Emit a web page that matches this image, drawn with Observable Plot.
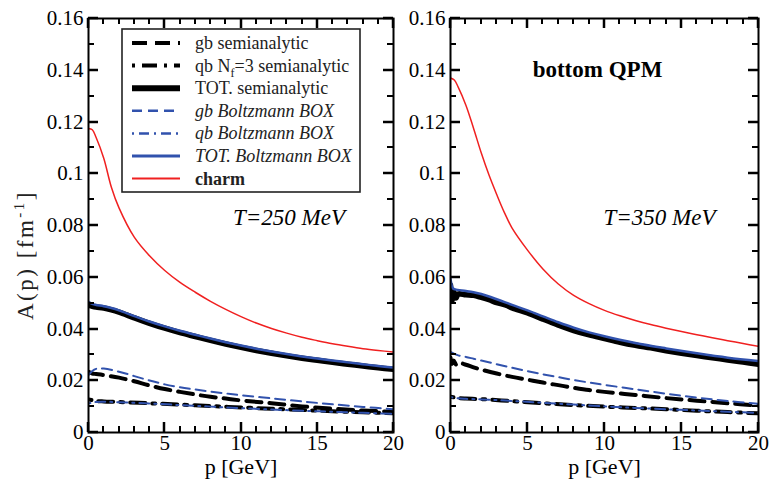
<!DOCTYPE html>
<html><head><meta charset="utf-8">
<script src="https://cdn.jsdelivr.net/npm/d3@7"></script>
<script src="https://cdn.jsdelivr.net/npm/@observablehq/plot@0.6"></script>
<style>
body{margin:0;background:#fff}
#wrap{display:flex;width:771px;height:480px;overflow:hidden}
</style>
</head><body><div id="wrap"></div>
<script>
// ---------- ticks ----------
const xTicks = [0, 5, 10, 15, 20];
const xMinor = [1,2,3,4,6,7,8,9,11,12,13,14,16,17,18,19];
const yTicks = [0, 0.02, 0.04, 0.06, 0.08, 0.1, 0.12, 0.14, 0.16];
const yMinor = [0.01, 0.03, 0.05, 0.07, 0.09, 0.11, 0.13, 0.15];

// ---------- legend labels ----------
const legendNames = ["gb semianalytic", "qb Nf=3 semianalytic", "TOT. semianalytic", "gb Boltzmann BOX", "qb Boltzmann BOX", "TOT. Boltzmann BOX", "charm"];
const panelTemps = ["T=250 MeV", "T=350 MeV"];
const panelTitle = "bottom QPM";

// ---------- T = 250 MeV (left) ----------
const charmL_p = [0,0.25,0.5,1,1.5,2,3,4,5,6,7,8,9,10,11,12,13,14,15,16,17,18,19,20];
const charmL_A = [0.1175,0.117,0.114,0.106,0.0948,0.0868,0.0755,0.0683,0.0626,0.058,0.0542,0.0507,0.0476,0.0448,0.0423,0.0402,0.0384,0.0368,0.0355,0.0343,0.0333,0.0324,0.0317,0.0311];
const totSemiL_p = [0,0.25,0.5,1,1.5,2,3,4,5,6,7,8,9,10,11,12,13,14,15,16,17,18,19,20];
const totSemiL_A = [0.0492,0.0488,0.0485,0.0481,0.0474,0.0465,0.0443,0.0422,0.0403,0.0386,0.0371,0.0356,0.0342,0.0329,0.0317,0.0306,0.0296,0.0287,0.0279,0.0271,0.0264,0.0257,0.025,0.0244];
const totBoxL_p = [0,0.25,0.5,1,1.5,2,3,4,5,6,7,8,9,10,11,12,13,14,15,16,17,18,19,20];
const totBoxL_A = [0.0505,0.0497,0.0493,0.0488,0.0481,0.0472,0.045,0.0429,0.041,0.0393,0.0378,0.0363,0.0349,0.0336,0.0324,0.0313,0.0303,0.0294,0.0286,0.0278,0.0271,0.0264,0.0257,0.0251];
const gbSemiL_p = [0,0.25,0.5,1,2,3,4,5,6,7,8,9,10,12,14,16,18,20];
const gbSemiL_A = [0.0235,0.0228,0.0226,0.0222,0.0212,0.0198,0.0182,0.0168,0.0157,0.0147,0.0138,0.0131,0.0124,0.0113,0.0101,0.0092,0.0085,0.008];
const gbBoxL_p = [0,0.25,0.5,1,2,3,4,5,6,7,8,9,10,12,14,16,18,20];
const gbBoxL_A = [0.0222,0.0238,0.0246,0.0247,0.0235,0.0218,0.0201,0.0186,0.0175,0.0166,0.0158,0.0151,0.0144,0.0132,0.012,0.0109,0.0099,0.009];
const qbSemiL_p = [0,0.5,1,2,4,6,8,10,12,14,16,18,20];
const qbSemiL_A = [0.0128,0.0122,0.012,0.0118,0.0113,0.0108,0.0102,0.0097,0.0092,0.0087,0.0082,0.0078,0.0074];
const qbBoxL_p = [0,0.5,1,2,4,6,8,10,12,14,16,18,20];
const qbBoxL_A = [0.0112,0.0118,0.0119,0.0117,0.0112,0.0106,0.01,0.0094,0.0089,0.0084,0.008,0.0076,0.0072];

// ---------- T = 350 MeV (right) ----------
const charmR_p = [0,0.25,0.5,1,1.5,2,2.5,3,3.5,4,5,6,7,8,9,10,11,12,13,14,15,16,17,18,19,20];
const charmR_A = [0.137,0.1362,0.1335,0.1265,0.1175,0.108,0.0995,0.092,0.085,0.079,0.0705,0.0632,0.0574,0.053,0.0498,0.0472,0.0451,0.0433,0.0417,0.0403,0.039,0.0378,0.0366,0.0355,0.0344,0.0333];
const totSemiR_p = [0,0.1,0.2,0.35,0.5,1,1.5,2,2.5,3,3.7,4,5,6,7,8,9,10,11,12,13,14,15,16,17,18,19,20];
const totSemiR_A = [0.057,0.051,0.0545,0.052,0.0535,0.0532,0.053,0.0522,0.0513,0.0502,0.049,0.0481,0.0462,0.0438,0.0415,0.0394,0.0377,0.0363,0.0349,0.0337,0.0327,0.0316,0.0306,0.0297,0.0289,0.028,0.0272,0.0264];
const totBoxR_p = [0,0.15,0.3,1,1.5,2,3,4,5,6,7,8,9,10,12,14,16,18,20];
const totBoxR_A = [0.0594,0.0558,0.0553,0.0547,0.0542,0.0535,0.0515,0.0493,0.0472,0.0449,0.0426,0.0405,0.0387,0.0372,0.0346,0.0325,0.0306,0.0289,0.0276];
const gbSemiR_p = [0,0.1,0.2,0.4,0.6,1,1.5,2,3,4,5,6,7,8,9,10,12,14,16,18,20];
const gbSemiR_A = [0.029,0.0265,0.0278,0.026,0.0268,0.0262,0.0252,0.0243,0.0228,0.0215,0.0204,0.0193,0.0183,0.0173,0.0164,0.0157,0.0145,0.0133,0.0123,0.0113,0.0104];
const gbBoxR_p = [0,0.5,1,1.5,2,3,4,5,6,7,8,9,10,12,14,16,18,20];
const gbBoxR_A = [0.0312,0.0298,0.0292,0.0285,0.0278,0.0264,0.025,0.0237,0.0225,0.0214,0.0203,0.0193,0.0184,0.0167,0.015,0.0135,0.0122,0.0111];
const qbSemiR_p = [0,0.5,1,2,4,6,8,10,12,14,16,18,20];
const qbSemiR_A = [0.0138,0.0133,0.0131,0.0129,0.0121,0.0113,0.0106,0.01,0.0095,0.009,0.0084,0.0079,0.0074];
const qbBoxR_p = [0,0.5,1,2,4,6,8,10,12,14,16,18,20];
const qbBoxR_A = [0.0137,0.0132,0.013,0.0128,0.0122,0.0115,0.0108,0.0101,0.0095,0.009,0.0085,0.008,0.0076];

// ---------- styles ----------
const BLUE = "#3152ad", RED = "#f02020", BLACK = "#000";
const styles = [
  {stroke: BLACK, strokeWidth: 4, dash: "15,8", legendWidth: 4},
  {stroke: BLACK, strokeWidth: 4, dash: "3,7,15,7", legendWidth: 4},
  {stroke: BLACK, strokeWidth: 5.5, dash: null, legendWidth: 6},
  {stroke: BLUE, strokeWidth: 2, dash: "10,6", legendWidth: 2.5},
  {stroke: BLUE, strokeWidth: 2, dash: "2,5,10,5", legendWidth: 2.5},
  {stroke: BLUE, strokeWidth: 2.5, dash: null, legendWidth: 3},
  {stroke: RED, strokeWidth: 1.5, dash: null, legendWidth: 2}
];

function rows(ps, as) { return ps.map((p, i) => ({p, A: as[i]})); }

const seriesL = [rows(gbSemiL_p, gbSemiL_A), rows(qbSemiL_p, qbSemiL_A), rows(totSemiL_p, totSemiL_A),
                 rows(gbBoxL_p, gbBoxL_A), rows(qbBoxL_p, qbBoxL_A), rows(totBoxL_p, totBoxL_A), rows(charmL_p, charmL_A)];
const seriesR = [rows(gbSemiR_p, gbSemiR_A), rows(qbSemiR_p, qbSemiR_A), rows(totSemiR_p, totSemiR_A),
                 rows(gbBoxR_p, gbBoxR_A), rows(qbBoxR_p, qbBoxR_A), rows(totBoxR_p, totBoxR_A), rows(charmR_p, charmR_A)];

const FONT = "Liberation Serif, Times New Roman, serif";
const yFmt = d => String(+d.toFixed(2));

function panel({width, marginLeft, marginRight, series, extra}) {
  const marks = [];
  series.forEach((data, i) => {
    const s = styles[i];
    marks.push(Plot.line(data, {x: "p", y: "A", stroke: s.stroke, strokeWidth: s.strokeWidth,
      strokeDasharray: s.dash, curve: "catmull-rom", clip: true}));
  });
  marks.push(
    Plot.frame({stroke: "black", strokeWidth: 2}),
    Plot.axisX(xTicks, {anchor: "bottom", tickSize: 0, tickPadding: 3, fontSize: 21, label: null, tickFormat: d => String(d)}),
    Plot.axisY(yTicks, {anchor: "left", tickSize: 0, tickPadding: 5, fontSize: 21, label: null, tickFormat: yFmt}),
    Plot.text(["p [GeV]"], {frameAnchor: "bottom", dy: 41, fontSize: 22, text: d => d}),
    ...extra
  );
  const svg = Plot.plot({
    width, height: 480, marginTop: 18, marginBottom: 48, marginLeft, marginRight,
    x: {domain: [0, 20], label: null},
    y: {domain: [0, 0.16], label: null},
    style: {fontFamily: FONT, fontSize: "20px", color: "#000", background: "#fff", overflow: "visible"},
    marks
  });
  // inward ticks on all four sides, positioned with the plot's own scales
  const sx = svg.scale("x"), sy = svg.scale("y");
  const [x0, x1] = sx.range, [y0, y1] = sy.range; // y0 bottom, y1 top
  const g = d3.select(svg).append("g");
  const tickX = (list, len, w) => list.forEach(v => {
    const px = Math.round(sx.apply(v));
    g.append("line").attr("x1", px).attr("x2", px).attr("y1", y0).attr("y2", y0 - len).attr("stroke", "#000").attr("stroke-width", w);
    g.append("line").attr("x1", px).attr("x2", px).attr("y1", y1).attr("y2", y1 + len).attr("stroke", "#000").attr("stroke-width", w);
  });
  const tickY = (list, len, w) => list.forEach(v => {
    const py = Math.round(sy.apply(v));
    g.append("line").attr("y1", py).attr("y2", py).attr("x1", x0).attr("x2", x0 + len).attr("stroke", "#000").attr("stroke-width", w);
    g.append("line").attr("y1", py).attr("y2", py).attr("x1", x1).attr("x2", x1 - len).attr("stroke", "#000").attr("stroke-width", w);
  });
  tickX(xMinor, 6, 2); tickX(xTicks, 10, 2.5);
  tickY(yMinor, 6, 2); tickY(yTicks, 10, 2.5);
  return svg;
}

const svgL = panel({width: 410, marginLeft: 88, marginRight: 17, series: seriesL,
  extra: [Plot.text([panelTemps[0]], {frameAnchor: "top", dx: 48, dy: 190, fontSize: 23, fontStyle: "italic", text: d => d})]});
const svgR = panel({width: 361, marginLeft: 40, marginRight: 13, series: seriesR,
  extra: [
    Plot.text([panelTemps[1]], {frameAnchor: "top", dx: 55, dy: 190, fontSize: 23, fontStyle: "italic", text: d => d}),
    Plot.text([panelTitle], {frameAnchor: "top", dx: -7, dy: 42, fontSize: 23, fontWeight: "bold", text: d => d})
  ]});

const wrap = document.getElementById("wrap");
wrap.appendChild(svgL);
wrap.appendChild(svgR);

// y-axis title with superscript
const yl = d3.select(svgL).append("text")
  .attr("transform", "translate(33,255) rotate(-90)")
  .attr("text-anchor", "middle").attr("font-family", FONT).attr("font-size", 23)
  .attr("letter-spacing", 2.5).attr("fill", "#222");
yl.append("tspan").text("A(p) [fm");
yl.append("tspan").attr("font-size", 15).attr("dy", -9).text("-1");
yl.append("tspan").attr("dy", 9).text("]");

// legend (inside left frame)
const lg = d3.select(svgL).append("g").attr("font-family", FONT).attr("font-size", 18)
  .attr("fill", "#222").attr("text-anchor", "start");
lg.append("rect").attr("x", 122).attr("y", 29).attr("width", 238).attr("height", 163)
  .attr("fill", "#fff").attr("stroke", "#222").attr("stroke-width", 1.6);
legendNames.forEach((name, i) => {
  const s = styles[i];
  const y = 43 + i * 22.6;
  lg.append("line").attr("x1", 132).attr("x2", 180).attr("y1", y).attr("y2", y)
    .attr("stroke", s.stroke).attr("stroke-width", s.legendWidth).attr("stroke-dasharray", s.dash);
  const t = lg.append("text").attr("x", 195).attr("y", y).attr("dy", "0.33em").attr("text-anchor", "start");
  if (i >= 3 && i <= 5) t.attr("font-style", "italic");
  if (i === 6) t.attr("font-weight", "bold");
  if (i === 1) {
    t.append("tspan").text("qb N");
    t.append("tspan").attr("font-size", 12).attr("dy", 5).text("f");
    t.append("tspan").attr("dy", -5).text("=3 semianalytic");
  } else {
    t.text(name);
  }
});
</script>
</body></html>
